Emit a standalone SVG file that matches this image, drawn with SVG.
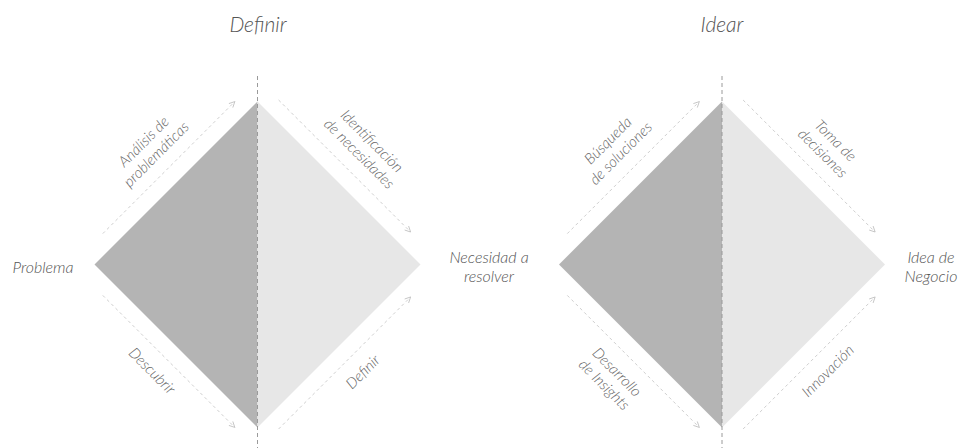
<svg xmlns="http://www.w3.org/2000/svg" width="968" height="448" viewBox="0 0 968 448">
<style>
.dark{fill:#b4b4b4}
.light{fill:#e7e7e7}
.axis{stroke:#9a9a9a;stroke-width:1;stroke-dasharray:4 3;fill:none}
.flow{stroke:#cfcfcf;stroke-width:1;stroke-dasharray:3 3;fill:none;marker-end:url(#ah)}
.title{font-family:Lato,"Open Sans",sans-serif;font-style:italic;font-weight:300;font-size:21px;fill:#555;text-anchor:middle}
.lbl{font-family:Lato,"Open Sans",sans-serif;font-style:italic;font-weight:300;font-size:15px;fill:#666;text-anchor:middle}
.side{font-family:Lato,"Open Sans",sans-serif;font-style:italic;font-weight:300;font-size:16px;fill:#555;text-anchor:middle}
</style>
<defs>
<marker id="ah" viewBox="0 0 10 10" refX="9" refY="5" markerWidth="7" markerHeight="7" markerUnits="userSpaceOnUse" orient="auto">
<path d="M1,1 L9,5 L1,9" fill="none" stroke="#c4c4c4" stroke-width="1.3"/>
</marker>
</defs>
<rect width="968" height="448" fill="#fff"/>

<g id="diamond-definir">
<polygon class="dark" points="94.5,264.5 257.5,101.5 257.5,427.5"/>
<polygon class="light" points="257.5,101.5 420.5,264.5 257.5,427.5"/>
<line class="axis" x1="257.5" y1="76" x2="257.5" y2="448"/>
</g>
<g id="diamond-idear">
<polygon class="dark" points="559,264.5 722,101.5 722,427.5"/>
<polygon class="light" points="722,101.5 885,264.5 722,427.5"/>
<line class="axis" x1="722" y1="76" x2="722" y2="448"/>
</g>

<g id="connectors">
<line class="flow" x1="102.8" y1="233.6" x2="234.8" y2="101.6"/>
<line class="flow" x1="278.6" y1="100" x2="410.6" y2="232"/>
<line class="flow" x1="102.8" y1="295.4" x2="234.8" y2="427.4"/>
<line class="flow" x1="278.6" y1="429" x2="410.6" y2="297"/>
<line class="flow" x1="567.3" y1="233.6" x2="699.3" y2="101.6"/>
<line class="flow" x1="743.1" y1="100" x2="875.1" y2="232"/>
<line class="flow" x1="567.3" y1="295.4" x2="699.3" y2="427.4"/>
<line class="flow" x1="743.1" y1="429" x2="875.1" y2="297"/>
</g>

<g id="titles">
<text class="title" x="258" y="32">Definir</text>
<text class="title" x="722" y="32">Idear</text>
</g>

<g id="node-problema"><text class="side" x="43" y="273">Problema</text></g>
<g id="node-necesidad"><text class="side" x="489" y="263">Necesidad a<tspan x="489" y="282">resolver</tspan></text></g>
<g id="node-idea"><text class="side" x="931" y="263">Idea de<tspan x="931" y="282">Negocio</tspan></text></g>

<g id="label-analisis" transform="translate(150,148) rotate(-45)">
<text class="lbl" x="0" y="-4">Análisis de<tspan x="0" y="14">problemáticas</tspan></text>
</g>
<g id="label-identificacion" transform="translate(365.5,147.5) rotate(45)">
<text class="lbl" x="0" y="-4">Identificación<tspan x="0" y="14">de necesidades</tspan></text>
</g>
<g id="label-descubrir" transform="translate(152,371) rotate(45)">
<text class="lbl" x="0" y="5">Descubrir</text>
</g>
<g id="label-definir" transform="translate(363,372) rotate(-45)">
<text class="lbl" x="0" y="5">Definir</text>
</g>
<g id="label-busqueda" transform="translate(614.5,147) rotate(-45)">
<text class="lbl" x="0" y="-4">Búsqueda<tspan x="0" y="14">de soluciones</tspan></text>
</g>
<g id="label-toma" transform="translate(829,147) rotate(45)">
<text class="lbl" x="0" y="-4">Toma de<tspan x="0" y="14">decisiones</tspan></text>
</g>
<g id="label-desarrollo" transform="translate(610.5,378.5) rotate(45)">
<text class="lbl" x="0" y="-4">Desarrollo<tspan x="0" y="14">de Insights</tspan></text>
</g>
<g id="label-innovacion" transform="translate(828,371) rotate(-45)">
<text class="lbl" x="0" y="5">Innovación</text>
</g>
</svg>
